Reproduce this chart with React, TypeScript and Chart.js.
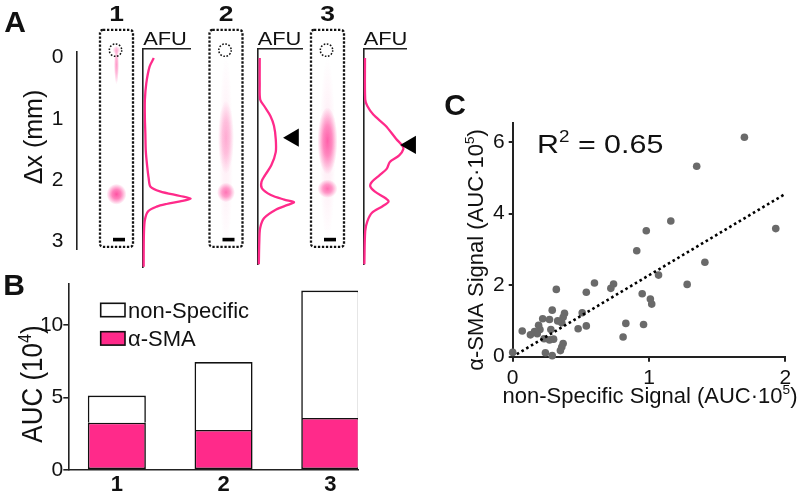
import React, { useEffect, useRef } from 'react';
import { Chart, registerables } from 'chart.js';

Chart.register(...registerables);

// ================= DATA =================
// Panel A – distance axis (mm) and strip labels
const dxTicks = [0, 1, 2, 3];
const stripLabels = ['1', '2', '3'];

// Panel A – fluorescence profiles (position in mm, AFU normalised)
const trace1Pos = [0.0, 0.13, 0.38, 0.63, 0.9, 1.13, 1.4, 1.63, 1.8, 1.93, 2.0, 2.07, 2.11, 2.15, 2.19, 2.23, 2.3, 2.43, 2.63, 2.9, 3.13];
const trace1Afu = [0.23, 0.14, 0.07, 0.04, 0.04, 0.05, 0.06, 0.09, 0.12, 0.16, 0.36, 0.79, 1.01, 0.79, 0.5, 0.29, 0.11, 0.04, 0.02, 0.015, 0.014];

const trace2Pos = [0.0, 0.4, 0.63, 0.73, 0.88, 1.03, 1.23, 1.43, 1.63, 1.78, 1.88, 1.98, 2.08, 2.15, 2.19, 2.23, 2.3, 2.43, 2.58, 2.8, 3.13];
const trace2Afu = [0.05, 0.05, 0.06, 0.15, 0.29, 0.37, 0.41, 0.41, 0.31, 0.17, 0.09, 0.1, 0.3, 0.6, 0.82, 0.68, 0.42, 0.15, 0.06, 0.04, 0.03];

const trace3Pos = [0.0, 0.63, 0.73, 0.86, 1.03, 1.23, 1.33, 1.38, 1.48, 1.58, 1.68, 1.78, 1.88, 1.95, 2.03, 2.13, 2.18, 2.25, 2.35, 2.48, 2.63, 3.13];
const trace3Afu = [0.035, 0.04, 0.09, 0.23, 0.52, 0.77, 0.91, 0.94, 0.84, 0.62, 0.55, 0.38, 0.2, 0.16, 0.27, 0.52, 0.59, 0.45, 0.2, 0.09, 0.04, 0.02];

// arrowheads marking the alpha-SMA peak (mm, AFU)
const arrow2 = { pos: 1.21, afu: 0.81 };
const arrow3 = { pos: 1.32, afu: 1.11 };

// Panel A – pink features in the strip images: centre (mm), half length (mm), intensity
const strip1Features = [
  { pos: -0.12, half: 0.07, level: 0.3 },
  { pos: 0.12, half: 0.32, level: 0.45 },
  { pos: 2.23, half: 0.17, level: 0.8 },
];
const strip2Features = [
  { pos: 1.55, half: 1.6, level: 0.07 },
  { pos: 1.3, half: 0.6, level: 0.35 },
  { pos: 2.2, half: 0.16, level: 0.62 },
];
const strip3Features = [
  { pos: 1.5, half: 1.5, level: 0.08 },
  { pos: 1.36, half: 0.55, level: 0.72 },
  { pos: 2.14, half: 0.15, level: 0.65 },
];

// Panel B – stacked AUC bars (x 10^4)
const barCategories = ['1', '2', '3'];
const barPositions = [1, 2, 3];
const aSmaAuc = [3.27, 2.77, 3.6];
const nonSpecificAuc = [1.87, 4.69, 8.8];
const aucTicks = [0, 5, 10];

// Panel C – scatter (x 10^5)
const scatterNonSpecific = [1.70, 1.35, 1.16, 0.98, 1.93, 0.91, 1.41, 1.07, 1.28, 0.60, 0.74, 0.72, 0.32, 0.54, 0.95, 1.01, 1.02, 0.29, 0.51, 0.38, 0.37, 0.22, 0.27, 0.83, 0.96, 0.54, 0.36, 0.19, 0.48, 0.07, 0.20, 0.28, 0.13, 0.18, 0.81, 0.23, 0.27, 0.30, 0.37, 0.36, 0.35, 0.24, 0.29, 0.0, 0.16, 0.33];
const scatterASma = [6.13, 5.32, 3.79, 3.52, 3.58, 2.96, 2.64, 2.28, 2.02, 2.06, 2.03, 1.91, 1.88, 1.80, 1.76, 1.61, 1.47, 1.30, 1.23, 1.21, 1.10, 1.06, 1.04, 0.93, 0.90, 0.86, 0.95, 0.88, 0.78, 0.72, 0.76, 0.76, 0.61, 0.64, 0.55, 0.50, 0.47, 0.49, 0.37, 0.27, 0.17, 0.11, 0.03, 0.12, 0.70, 1.0];
const fitX = [0.03, 2.0];
const fitY = [0.07, 4.55];
const cTicksX = [0, 1, 2];
const cTicksY = [0, 2, 4, 6];
const rSquared = '0.65';

// ================= STYLE / LAYOUT =================
const FONT = '"Liberation Sans", Arial, Helvetica, sans-serif';
const PINK = '#ff2a8a';
const INK = '#111111';
const AXIS = '#222222';

Chart.defaults.font.family = FONT;
Chart.defaults.color = INK;

const stripCentersPx = [116.5, 226, 327.5];
const stripBlobHalfWidths = [[4, 2.5, 10], [7, 8, 9], [8, 10, 10]];
const STRIP_TOP_MM = -0.45;
const STRIP_BOTTOM_MM = 3.09;
const STRIP_WIDTH = 33;
const WELL_MM = -0.12;
const SCALEBAR_MM = 2.97;

const TRACE_W = 80;
const traceAxisX = [143, 253, 359];
const traceWidths = [47, 49, 47];

type Part = { t: string; sup?: boolean };
function fontStr(size: number, bold?: boolean) {
  return `${bold ? 'bold ' : ''}${size}px ${FONT}`;
}
function drawText(
  ctx: CanvasRenderingContext2D,
  parts: Part[],
  cx: number,
  cy: number,
  o: { size: number; bold?: boolean; rotate?: number; sx?: number; sy?: number; align?: 'left' | 'center' | 'right'; color?: string }
) {
  const size = o.size;
  const supSize = size * 0.62;
  ctx.save();
  ctx.translate(cx, cy);
  if (o.rotate) ctx.rotate(o.rotate);
  ctx.scale(o.sx ?? 1, o.sy ?? 1);
  ctx.fillStyle = o.color ?? INK;
  ctx.textBaseline = 'alphabetic';
  ctx.textAlign = 'left';
  const widths = parts.map((p) => {
    ctx.font = fontStr(p.sup ? supSize : size, o.bold);
    return ctx.measureText(p.t).width;
  });
  const total = widths.reduce((a, b) => a + b, 0);
  let x = o.align === 'left' ? 0 : o.align === 'right' ? -total : -total / 2;
  const baseY = (size * 0.716) / 2;
  parts.forEach((p, i) => {
    ctx.font = fontStr(p.sup ? supSize : size, o.bold);
    ctx.fillText(p.t, x, p.sup ? baseY - size * 0.4 : baseY);
    x += widths[i];
  });
  ctx.restore();
}

function blob(ctx: CanvasRenderingContext2D, cx: number, cy: number, rx: number, ry: number, level: number) {
  ctx.save();
  ctx.translate(cx, cy);
  ctx.scale(rx, ry);
  const g = ctx.createRadialGradient(0, 0, 0, 0, 0, 1);
  g.addColorStop(0, `rgba(255,40,140,${level})`);
  g.addColorStop(0.45, `rgba(255,40,140,${level * 0.72})`);
  g.addColorStop(1, 'rgba(255,40,140,0)');
  ctx.fillStyle = g;
  ctx.beginPath();
  ctx.arc(0, 0, 1, 0, Math.PI * 2);
  ctx.fill();
  ctx.restore();
}

function roundRectPath(ctx: CanvasRenderingContext2D, x: number, y: number, w: number, h: number, r: number) {
  ctx.beginPath();
  ctx.moveTo(x + r, y);
  ctx.lineTo(x + w - r, y);
  ctx.arcTo(x + w, y, x + w, y + r, r);
  ctx.lineTo(x + w, y + h - r);
  ctx.arcTo(x + w, y + h, x + w - r, y + h, r);
  ctx.lineTo(x + r, y + h);
  ctx.arcTo(x, y + h, x, y + h - r, r);
  ctx.lineTo(x, y + r);
  ctx.arcTo(x, y, x + r, y, r);
  ctx.closePath();
}

const noPlugins = { legend: { display: false }, tooltip: { enabled: false } };
const tickList = (vals: number[]) => (s: any) => {
  s.ticks = vals.map((v) => ({ value: v }));
};

// ================= PANEL A (axis + strip images) =================
const stripPlugin = {
  id: 'strips',
  afterDraw(chart: any) {
    const ctx: CanvasRenderingContext2D = chart.ctx;
    const y = chart.scales.y;
    const features = [strip1Features, strip2Features, strip3Features];
    drawText(ctx, [{ t: 'A' }], 15, 21, { size: 30, bold: true });
    drawText(ctx, [{ t: 'Δx (mm)' }], 33, 137, { size: 25, rotate: -Math.PI / 2 });
    features.forEach((list, i) => {
      const cx = stripCentersPx[i];
      list.forEach((f, j) => {
        const cy = y.getPixelForValue(f.pos);
        const ry = Math.abs(y.getPixelForValue(f.pos + f.half) - cy);
        blob(ctx, cx, cy, stripBlobHalfWidths[i][j], ry, f.level);
      });
      const top = y.getPixelForValue(STRIP_TOP_MM);
      const bottom = y.getPixelForValue(STRIP_BOTTOM_MM);
      ctx.save();
      ctx.strokeStyle = INK;
      ctx.lineWidth = 2.3;
      ctx.setLineDash([2.3, 1.7]);
      roundRectPath(ctx, cx - STRIP_WIDTH / 2, top, STRIP_WIDTH, bottom - top, 3);
      ctx.stroke();
      ctx.lineWidth = 1.5;
      ctx.setLineDash([1.6, 1.6]);
      ctx.beginPath();
      ctx.arc(cx - 1, y.getPixelForValue(WELL_MM), 6.2, 0, Math.PI * 2);
      ctx.stroke();
      ctx.restore();
      ctx.fillStyle = '#000';
      const sb = y.getPixelForValue(SCALEBAR_MM);
      ctx.fillRect(cx - 3.5, sb - 1.8, 12, 3.6);
      drawText(ctx, [{ t: stripLabels[i] }], cx, 13, { size: 22, bold: true, sx: 1.2 });
    });
  },
};

function configA(): any {
  return {
    type: 'scatter',
    data: { datasets: [] },
    options: {
      responsive: false,
      animation: false,
      events: [],
      layout: { padding: { left: 0, top: 51.7, right: 0, bottom: 275 - 266.7 } },
      plugins: noPlugins,
      scales: {
        x: { type: 'linear', display: false, min: 0, max: 1 },
        y: {
          type: 'linear',
          reverse: true,
          min: -0.095,
          max: 3.13,
          afterFit: (s: any) => {
            s.width = 76.5;
          },
          afterBuildTicks: tickList(dxTicks),
          ticks: { font: { size: 21 }, color: INK, padding: 13 },
          grid: { display: false, drawTicks: false },
          border: { display: true, color: AXIS, width: 1.6 },
        },
      },
    },
    plugins: [stripPlugin],
  };
}

// ================= PANEL A traces =================
const afuPlugin = {
  id: 'afu',
  afterDraw(chart: any) {
    const a = chart.chartArea;
    drawText(chart.ctx, [{ t: 'AFU' }], a.left + 22, 38.3, { size: 19, sx: 1.15 });
  },
};

function traceConfig(pos: number[], afu: number[], arrow: { pos: number; afu: number } | null, w: number): any {
  const datasets: any[] = [
    {
      data: pos.map((p, i) => ({ x: afu[i], y: p })),
      showLine: true,
      borderColor: PINK,
      borderWidth: 2.3,
      pointRadius: 0,
      tension: 0.3,
      clip: false,
      order: 1,
    },
  ];
  if (arrow) {
    datasets.push({
      data: [{ x: arrow.afu, y: arrow.pos }],
      showLine: false,
      pointStyle: 'triangle',
      rotation: -90,
      pointRadius: 10.5,
      backgroundColor: '#000',
      borderColor: '#000',
      borderWidth: 0,
      clip: false,
      order: 0,
    });
  }
  return {
    type: 'scatter',
    data: { datasets },
    options: {
      responsive: false,
      animation: false,
      events: [],
      layout: { padding: { left: 6, right: TRACE_W - 6 - w, top: 0, bottom: 8 } },
      plugins: noPlugins,
      scales: {
        x: {
          type: 'linear',
          position: 'top',
          min: 0,
          max: 1,
          afterFit: (s: any) => {
            s.height = 49;
          },
          ticks: { display: false },
          grid: { display: false, drawTicks: false },
          border: { display: true, color: AXIS, width: 1.6 },
        },
        y: {
          type: 'linear',
          reverse: true,
          min: -0.135,
          max: 3.135,
          afterFit: (s: any) => {
            s.width = 0;
          },
          ticks: { display: false },
          grid: { display: false, drawTicks: false },
          border: { display: true, color: AXIS, width: 1.6 },
        },
      },
    },
    plugins: [afuPlugin],
  };
}

// ================= PANEL B =================
const bPlugin = {
  id: 'panelB',
  afterDraw(chart: any) {
    const ctx: CanvasRenderingContext2D = chart.ctx;
    drawText(ctx, [{ t: 'B' }], 14, 14, { size: 30, bold: true });
    drawText(ctx, [{ t: 'AUC (10' }, { t: '4', sup: true }, { t: ')' }], 32, 114, {
      size: 26,
      rotate: -Math.PI / 2,
      sy: 1.12,
    });
    const ds = [...chart.data.datasets].reverse();
    ds.forEach((d: any, i: number) => {
      const top = 33.3 + i * 28.4;
      ctx.fillStyle = d.backgroundColor;
      ctx.fillRect(100.7, top, 24.3, 13.4);
      ctx.strokeStyle = INK;
      ctx.lineWidth = 1.6;
      ctx.strokeRect(100.7, top, 24.3, 13.4);
      drawText(ctx, [{ t: d.label }], 128, top + 6.7, { size: 22, align: 'left' });
    });
  },
};

function configB(): any {
  const common = { borderColor: INK, borderWidth: 1.6, barPercentage: 0.544, categoryPercentage: 1 };
  return {
    type: 'bar',
    data: {
      datasets: [
        { label: 'α-SMA', data: barPositions.map((x, i) => ({ x, y: aSmaAuc[i] })), backgroundColor: PINK, borderSkipped: false, ...common },
        { label: 'non-Specific', data: barPositions.map((x, i) => ({ x, y: nonSpecificAuc[i] })), backgroundColor: '#ffffff', borderSkipped: 'bottom', ...common },
      ],
    },
    options: {
      responsive: false,
      animation: false,
      events: [],
      layout: { padding: { left: 0, top: 13.3, right: 22, bottom: 0 } },
      plugins: noPlugins,
      scales: {
        x: {
          type: 'linear',
          stacked: true,
          offset: false,
          min: 0.545,
          max: 3.26,
          afterFit: (s: any) => {
            s.height = 31;
          },
          afterBuildTicks: tickList(barPositions),
          ticks: {
            callback: (_v: any, i: number) => barCategories[i],
            font: { size: 22, weight: 'bold' },
            color: INK,
            padding: 2,
          },
          grid: { display: false, drawTicks: false, offset: false },
          border: { display: true, color: AXIS, width: 1.6 },
        },
        y: {
          type: 'linear',
          stacked: true,
          min: 0,
          max: 12.9,
          afterFit: (s: any) => {
            s.width = 68.3;
          },
          afterBuildTicks: tickList(aucTicks),
          ticks: { font: { size: 21 }, color: INK, padding: 0 },
          grid: { display: true, drawOnChartArea: false, drawTicks: true, tickLength: 5, color: AXIS, lineWidth: 1.6 },
          border: { display: true, color: AXIS, width: 1.6 },
        },
      },
    },
    plugins: [bPlugin],
  };
}

// ================= PANEL C =================
const cPlugin = {
  id: 'panelC',
  afterDraw(chart: any) {
    const ctx: CanvasRenderingContext2D = chart.ctx;
    const a = chart.chartArea;
    drawText(ctx, [{ t: 'C' }], 75, 24, { size: 30, bold: true });
    drawText(ctx, [{ t: 'R' }, { t: '2', sup: true }, { t: ' = ' + rSquared }], 157, 63.5, { size: 26, sx: 1.17, align: 'left' });
    drawText(ctx, [{ t: 'α-SMA Signal (AUC·10' }, { t: '5', sup: true }, { t: ')' }], 95, 170, {
      size: 22,
      rotate: -Math.PI / 2,
    });
    drawText(ctx, [{ t: 'non-Specific Signal (AUC·10' }, { t: '5', sup: true }, { t: ')' }], (a.left + a.right) / 2 + 1, 315, { size: 22 });
  },
};

function configC(): any {
  const tickGrid = { display: true, drawOnChartArea: false, drawTicks: true, tickLength: 5, color: AXIS, lineWidth: 2 };
  return {
    type: 'scatter',
    data: {
      datasets: [
        {
          label: 'fit',
          data: fitX.map((x, i) => ({ x, y: fitY[i] })),
          showLine: true,
          borderColor: '#000',
          borderWidth: 2.6,
          borderDash: [2.6, 2.9],
          pointRadius: 0,
          order: 0,
        },
        {
          label: 'samples',
          data: scatterNonSpecific.map((x, i) => ({ x, y: scatterASma[i] })),
          pointRadius: 3.8,
          backgroundColor: '#6a6a6a',
          borderWidth: 0,
          clip: false,
          order: 1,
        },
      ],
    },
    options: {
      responsive: false,
      animation: false,
      events: [],
      layout: { padding: { left: 0, top: 43, right: 14.7, bottom: 0 } },
      plugins: noPlugins,
      scales: {
        x: {
          type: 'linear',
          min: 0,
          max: 2,
          afterFit: (s: any) => {
            s.height = 63.3;
          },
          afterBuildTicks: tickList(cTicksX),
          ticks: { font: { size: 21 }, color: INK, padding: 4 },
          grid: tickGrid,
          border: { display: true, color: AXIS, width: 2 },
        },
        y: {
          type: 'linear',
          min: 0,
          max: 6.53,
          afterFit: (s: any) => {
            s.width = 132.7;
          },
          afterBuildTicks: tickList(cTicksY),
          ticks: { font: { size: 21 }, color: INK, padding: 4 },
          grid: { ...tickGrid, tickLength: 4 },
          border: { display: true, color: AXIS, width: 2 },
        },
      },
    },
    plugins: [cPlugin],
  };
}

// ================= COMPONENT =================
export default function App() {
  const aRef = useRef<HTMLCanvasElement>(null);
  const t1Ref = useRef<HTMLCanvasElement>(null);
  const t2Ref = useRef<HTMLCanvasElement>(null);
  const t3Ref = useRef<HTMLCanvasElement>(null);
  const bRef = useRef<HTMLCanvasElement>(null);
  const cRef = useRef<HTMLCanvasElement>(null);

  useEffect(() => {
    const charts = [
      new Chart(aRef.current!, configA()),
      new Chart(t1Ref.current!, traceConfig(trace1Pos, trace1Afu, null, traceWidths[0])),
      new Chart(t2Ref.current!, traceConfig(trace2Pos, trace2Afu, arrow2, traceWidths[1])),
      new Chart(t3Ref.current!, traceConfig(trace3Pos, trace3Afu, arrow3, traceWidths[2])),
      new Chart(bRef.current!, configB()),
      new Chart(cRef.current!, configC()),
    ];
    return () => charts.forEach((c) => c.destroy());
  }, []);

  const cv = (ref: any, left: number, top: number, w: number, h: number) => (
    <canvas ref={ref} width={w} height={h} style={{ position: 'absolute', left, top, width: w, height: h }} />
  );

  return (
    <div style={{ position: 'absolute', left: 0, top: 0, width: 800, height: 501, background: '#fff', overflow: 'hidden' }}>
      {cv(aRef, 0, 0, 420, 275)}
      {cv(bRef, 0, 270, 380, 231)}
      {cv(cRef, 380, 80, 420, 340)}
      {cv(t1Ref, traceAxisX[0] - 6, 0, TRACE_W, 275)}
      {cv(t2Ref, traceAxisX[1] - 6, 0, TRACE_W, 275)}
      {cv(t3Ref, traceAxisX[2] - 6, 0, TRACE_W, 275)}
    </div>
  );
}
